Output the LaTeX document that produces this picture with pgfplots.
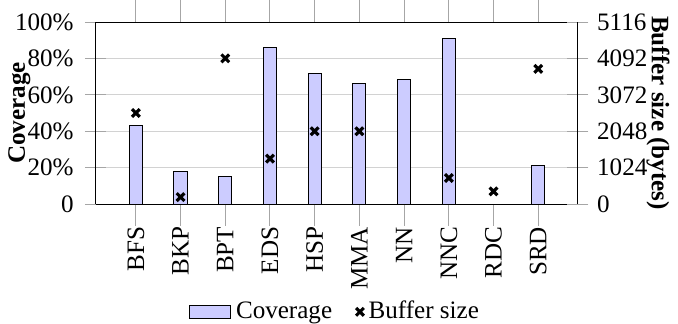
\documentclass[border=0pt]{standalone}
\usepackage{fontspec}
\setmainfont{Liberation Serif}
\usepackage{pgfplots}
\pgfplotsset{compat=1.18}
\begin{document}
\fontsize{10.5}{12.6}\selectfont
\begin{tikzpicture}
\pgfplotsset{
  common/.style={
    width=201.7pt, height=76.25pt, scale only axis,
    xmin=-0.9, xmax=9.88,
    tick align=center, major tick length=9pt,
    tick style={gray!70, line width=0.4pt},
  }
}
\begin{axis}[common,
  ymin=0, ymax=100,
  axis y line*=left,
  ybar, bar width=5.5pt,
  xtick={0,1,2,3,4,5,6,7,8,9},
  xticklabels={BFS,BKP,BPT,EDS,HSP,MMA,NN,NNC,RDC,SRD},
  x tick label style={rotate=90, anchor=east},
  xticklabel shift=-3.2pt,
  yticklabel shift=1pt,
  ytick={0,20,40,60,80,100},
  yticklabels={0,20\%,40\%,60\%,80\%,100\%},
  ymajorgrids, grid style={gray!35, line width=0.4pt},
  ylabel={\textbf{Coverage}},
  ylabel style={at={(axis description cs:-0.158,0.5)}, anchor=center},
]
\addplot[fill=blue!20, draw=black, line width=0.4pt] coordinates {
  (0,43) (1,18) (2,15) (3,86) (4,72) (5,66.5) (6,68.2) (7,91) (8,0) (9,21)
};
\end{axis}
\begin{axis}[common,
  ymin=0, ymax=5116,
  axis y line*=right, axis x line=none,
  ytick={0,1024,2048,3072,4092,5116},
  yticklabels={0,1024,2048,3072,4092,5116},
  ylabel={\textbf{Buffer size (bytes)}},
  ylabel style={at={(axis description cs:1.167,0.5)}, anchor=center, rotate=180},
  legend style={at={(0.5,-0.656)}, anchor=south, draw=none, fill=none,
    legend columns=2, inner ysep=0pt,
    nodes={inner ysep=0.3pt},
    /tikz/every even column/.append style={column sep=8pt}},
  legend cell align=left,
]
\addlegendimage{area legend, fill=blue!20, draw=black, line width=0.4pt}
\addlegendentry{Coverage}
\addplot[only marks, mark=x, mark size=2.3pt, line width=1.3pt, black] coordinates {
  (0,2560) (1,200) (2,4096) (3,1280) (4,2048) (5,2048) (7,736) (8,360) (9,3800)
};
\addlegendentry{Buffer size}
\end{axis}
\end{tikzpicture}
\end{document}
